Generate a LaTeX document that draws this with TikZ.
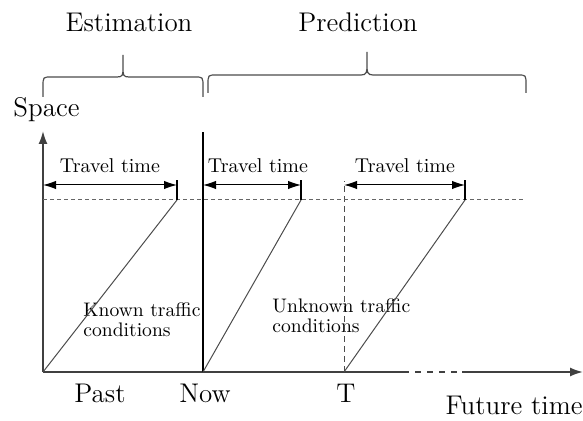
\documentclass[tikz,border=0pt]{standalone}
\usetikzlibrary{arrows.meta}
\usetikzlibrary{calc}

\tikzset{
    big/.style={inner sep=0pt, font=\fontsize{13.5}{15}\selectfont},
    lbl/.style={inner sep=0pt, font=\fontsize{10}{11}\selectfont},
    cond/.style={inner sep=0pt, font=\fontsize{9.8}{10.4}\selectfont, align=left},
    axis/.style={line width=0.9pt, black!75},
    thin/.style={line width=0.5pt, black!70},
    tt/.style={line width=0.5pt, black, {Latex[length=6.5pt,width=4.2pt]}-{Latex[length=6.5pt,width=4.2pt]}},
    brc/.style={line width=0.6pt, black!70}
}

\begin{document}
\begin{tikzpicture}[x=0.5pt,y=-0.5pt]

    \useasboundingbox (0,0) rectangle (583,421);
    %\draw [help lines,step=50] (0,0) grid (583,421);

    \path   (43,372)  coordinate (o)
            (43,131)  coordinate (ytop)
            (403,372) coordinate (xd1)
            (462,372) coordinate (xd2)
            (583,372) coordinate (xend)
            (203,372) coordinate (nowb)
            (203,132) coordinate (nowt)
            (344,372) coordinate (tb)
            (344,181) coordinate (tt)
            (43,200)  coordinate (h1)
            (525,200) coordinate (h2)
            (177,200) coordinate (d1)
            (301,200) coordinate (d2)
            (465,200) coordinate (d3)
            (177,180) coordinate (d1t)
            (301,180) coordinate (d2t)
            (465,180) coordinate (d3t)
            (43,185)  coordinate (a1)
            (177,185) coordinate (b1)
            (203,185) coordinate (a2)
            (301,185) coordinate (b2)
            (344,185) coordinate (a3)
            (465,185) coordinate (b3)
            (43,97)   coordinate (e1)
            (123,55)  coordinate (em)
            (203,97)  coordinate (e2)
            (208,93)  coordinate (p1)
            (367,52)  coordinate (pm)
            (526,93)  coordinate (p2);

    \path   (129,32)  node (est)  [big, anchor=base] {Estimation}
            (358,32)  node (pred) [big, anchor=base] {Prediction}
            (13,117)  node (spc)  [big, anchor=base west] {Space}
            (110,173) node (tt1)  [lbl, anchor=base] {Travel time}
            (258,173) node (tt2)  [lbl, anchor=base] {Travel time}
            (405,173) node (tt3)  [lbl, anchor=base] {Travel time}
            (83,337)  node (known)   [cond, anchor=base west] {Known traffic\\conditions}
            (272,333) node (unknown) [cond, anchor=base west] {Unknown traffic\\conditions}
            (100,403) node (past) [big, anchor=base] {Past}
            (205,403) node (now)  [big, anchor=base] {Now}
            (346,403) node (T)    [big, anchor=base] {T}
            (583,415) node (fut)  [big, anchor=base east] {Future time};

    % braces
    \draw[brc] (e1) -- ++(0,-10) .. controls +(0,-10) and +(-8,0) .. (51,77)
        -- (117,77) .. controls +(6,0) and +(0,8) .. ($(em)+(0,12)$) -- (em)
        -- ($(em)+(0,12)$) .. controls +(0,8) and +(-6,0) .. (129,77)
        -- (195,77) .. controls +(8,0) and +(0,-10) .. ($(e2)+(0,-10)$) -- (e2);
    \draw[brc] (p1) -- ++(0,-8) .. controls +(0,-10) and +(-8,0) .. (216,75)
        -- (361,75) .. controls +(6,0) and +(0,8) .. ($(pm)+(0,12)$) -- (pm)
        -- ($(pm)+(0,12)$) .. controls +(0,8) and +(-6,0) .. (373,75)
        -- (518,75) .. controls +(8,0) and +(0,-10) .. ($(p2)+(0,-8)$) -- (p2);

    % axes
    \draw[axis, -{Latex[length=6.5pt,width=4.5pt]}] (o) -- (ytop);
    \draw[axis] (o) -- (xd1);
    \draw[axis, dashed] (xd1) -- (xd2);
    \draw[axis, -{Latex[length=6.5pt,width=4.5pt]}] (xd2) -- (xend);
    \draw[line width=0.7pt] (nowb) -- (nowt);
    \draw[thin, densely dashed] (tb) -- (tt);
    \draw[thin, dash pattern=on 2pt off 1.5pt, black!60] (h1) -- (h2);

    % trips
    \draw[thin] (o) -- (d1);
    \draw[thin] (nowb) -- (d2);
    \draw[thin] (tb) -- (d3);
    \draw[line width=0.6pt] (d1) -- (d1t);
    \draw[line width=0.6pt] (d2) -- (d2t);
    \draw[line width=0.6pt] (d3) -- (d3t);
    \draw[tt] (a1) -- (b1);
    \draw[tt] (a2) -- (b2);
    \draw[tt] (a3) -- (b3);

\end{tikzpicture}
\end{document}
